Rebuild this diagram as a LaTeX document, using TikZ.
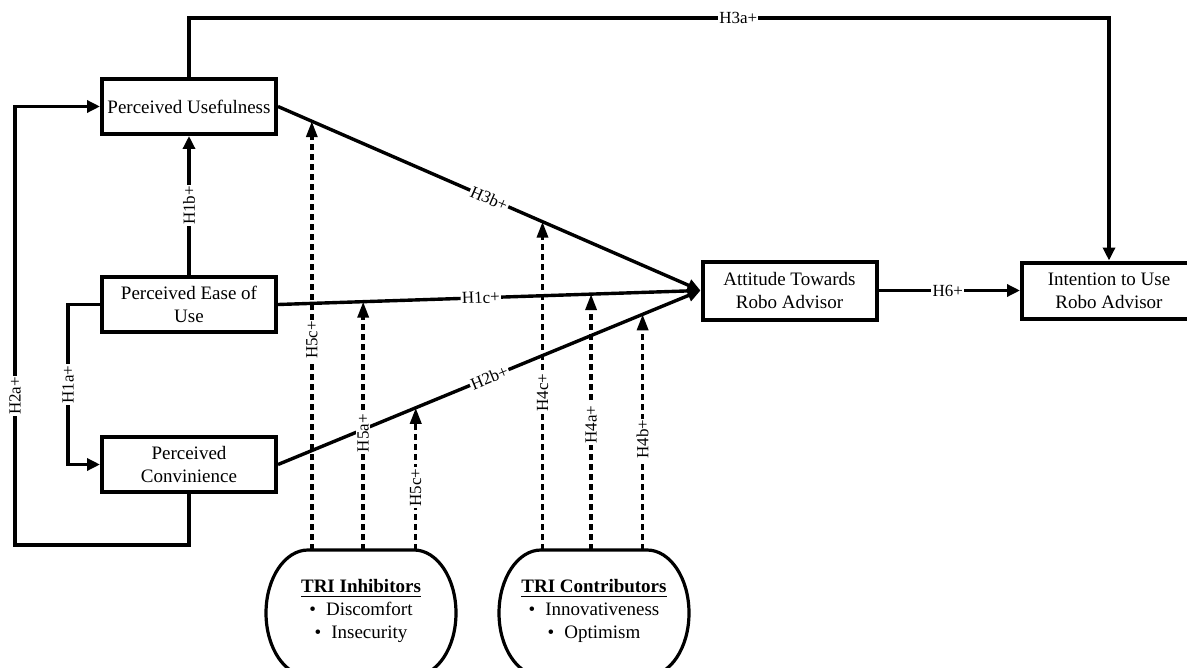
\documentclass[tikz,border=0pt]{standalone}
\usepackage{fontspec}
\setmainfont{Liberation Serif}
\usetikzlibrary{arrows.meta,calc}
\begin{document}
\begin{tikzpicture}[x=0.5pt,y=-0.5pt,
 box/.style={draw, line width=2pt, minimum width=87pt, minimum height=27.5pt, align=center, inner sep=1pt, font=\fontsize{9.5}{11.5}\selectfont},
 arr/.style={line width=1.7pt, -{Triangle[length=6.5pt,width=6pt]}},
 darr/.style={line width=1.7pt, dash pattern=on 3pt off 2pt, -{Triangle[length=8pt,width=5.5pt]}},
 lbl/.style={fill=white, inner sep=0.6pt, font=\fontsize{8.5}{10}\selectfont},
 blob/.style={line width=1.6pt},
 blobtext/.style={align=center, font=\fontsize{9.5}{11.3}\selectfont}
]
\useasboundingbox (0,0) rectangle (1187,668);
\clip (0,0) rectangle (1187,668);

% boxes
\node[box] (PU) at (189,106.5) {Perceived Usefulness};
\node[box] (PE) at (189,304.5) {Perceived Ease of\\Use};
\node[box] (PC) at (189,464.5) {Perceived\\Convinience};
\node[box, minimum height=29pt] (AT) at (789.5,290.5) {Attitude Towards\\Robo Advisor};
\node[box, minimum height=28pt] (IU) at (1109,290.5) {Intention to Use\\Robo Advisor};

% helper coordinates
\coordinate (topc) at (0,18);
\coordinate (h2a) at (15,545);
\coordinate (h1a) at (68,0);
\coordinate (inhT) at (361,550);
\coordinate (conT) at (594,550);

% solid connectors
\draw[arr] (PU.north) -- (PU.north |- topc) -- node[lbl,pos=0.597]{H3a+} (IU.north |- topc) -- (IU.north);
\draw[arr] (PC.south) -- (PC.south |- h2a) -- (h2a) -- node[lbl,rotate=90,pos=0.34]{H2a+} (h2a |- PU.west) -- (PU.west);
\draw[arr] (PE.west) -- (PE.west -| h1a) -- node[lbl,rotate=90,midway]{H1a+} (PC.west -| h1a) -- (PC.west);
\draw[arr] (PE.north) -- node[lbl,rotate=90,midway]{H1b+} (PU.south);

\draw[arr] (PU.east) -- coordinate[pos=0.080] (t1) coordinate[pos=0.626] (t4) node[lbl,sloped,midway]{H3b+} (AT.west);
\draw[arr] (PE.east) -- coordinate[pos=0.2016] (t2) coordinate[pos=0.741] (t5) node[lbl,sloped,pos=0.48]{H1c+} (AT.west);
\draw[arr] (PC.east) -- coordinate[pos=0.326] (t3) coordinate[pos=0.863] (t6) node[lbl,sloped,midway]{H2b+} (AT.west);

\draw[arr] (AT.east) -- node[lbl,pos=0.49]{H6+} (IU.west);

% moderator shapes
\draw[blob] (308,550) -- (414,550)
  arc[start angle=-90,end angle=0,x radius=42,y radius=63]
  arc[start angle=0,end angle=90,x radius=42,y radius=63]
  -- (308,676)
  arc[start angle=90,end angle=180,x radius=42,y radius=63]
  arc[start angle=180,end angle=270,x radius=42,y radius=63] -- cycle;
\draw[blob] (541,550) -- (647,550)
  arc[start angle=-90,end angle=0,x radius=42,y radius=63]
  arc[start angle=0,end angle=90,x radius=42,y radius=63]
  -- (541,676)
  arc[start angle=90,end angle=180,x radius=42,y radius=63]
  arc[start angle=180,end angle=270,x radius=42,y radius=63] -- cycle;

\node[blobtext] (inh) at (361,611) {\underline{\textbf{TRI Inhibitors}}\\\textbullet\hspace{5pt}Discomfort\\\textbullet\hspace{5pt}Insecurity};
\node[blobtext] (con) at (594,611) {\underline{\textbf{TRI Contributors}}\\\textbullet\hspace{5pt}Innovativeness\\\textbullet\hspace{5pt}Optimism};

% dashed moderating arrows
\draw[darr] (t1 |- inhT) -- node[lbl,rotate=90,pos=0.49]{H5c+} (t1);
\draw[darr] (t2 |- inhT) -- node[lbl,rotate=90,pos=0.47]{H5a+} (t2);
\draw[darr] (t3 |- inhT) -- node[lbl,rotate=90,pos=0.44]{H5c+} (t3);
\draw[darr] (t4 |- conT) -- node[lbl,rotate=90,pos=0.48]{H4c+} (t4);
\draw[darr] (t5 |- conT) -- node[lbl,rotate=90,pos=0.49]{H4a+} (t5);
\draw[darr] (t6 |- conT) -- node[lbl,rotate=90,pos=0.47]{H4b+} (t6);
\end{tikzpicture}
\end{document}
